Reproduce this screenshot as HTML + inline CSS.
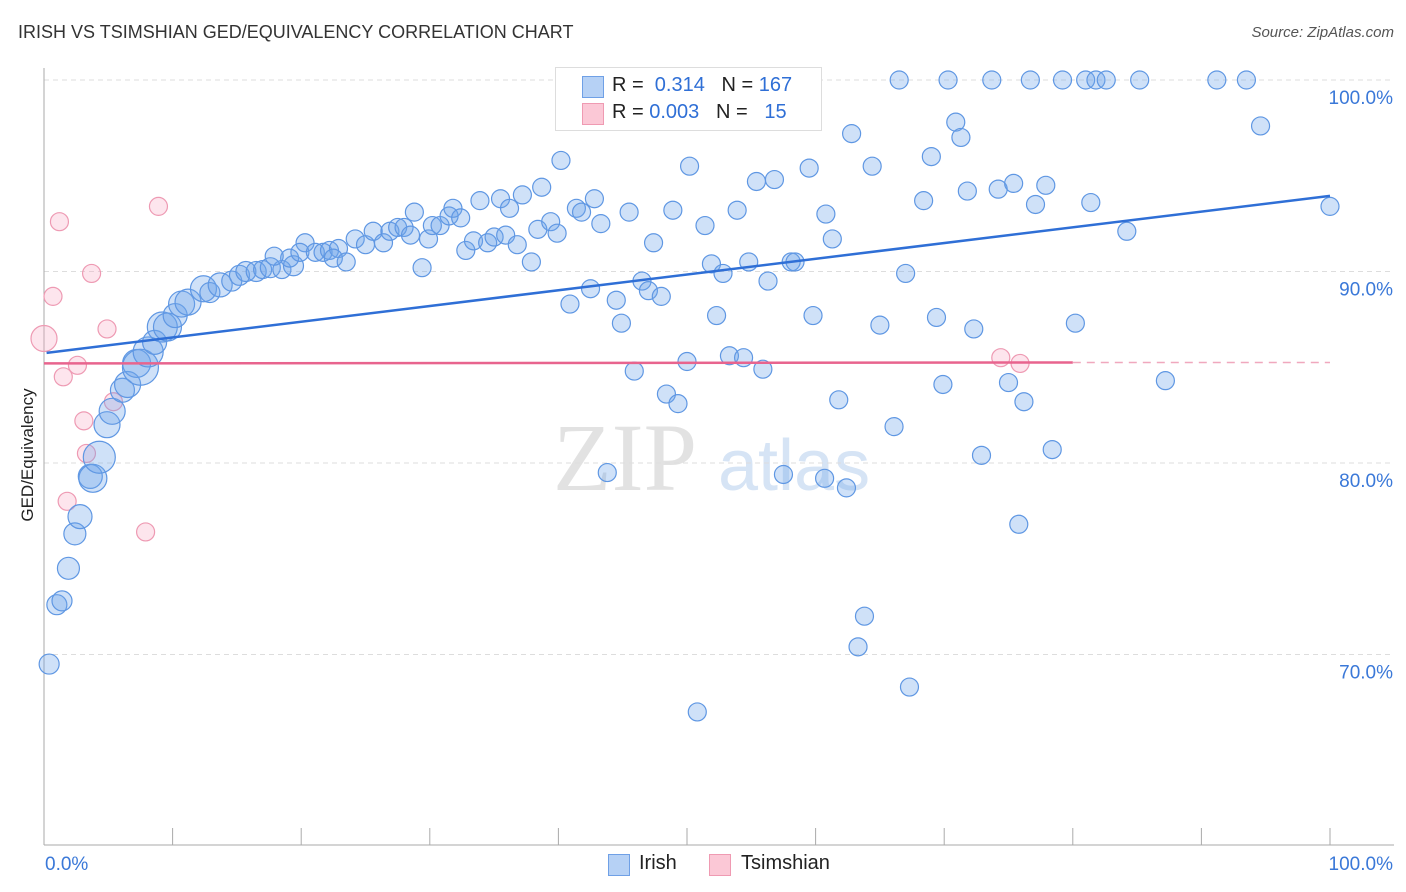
<!DOCTYPE html>
<html><head><meta charset="utf-8">
<style>
body{margin:0;background:#fff;font-family:"Liberation Sans",sans-serif;}
#wrap{position:relative;width:1406px;height:892px;overflow:hidden;}
.t{position:absolute;white-space:nowrap;}
</style></head>
<body>
<div id="wrap">
<div class="t" style="left:18px;top:22px;font-size:18px;color:#333;">IRISH VS TSIMSHIAN GED/EQUIVALENCY CORRELATION CHART</div>
<div class="t" style="right:12px;top:24px;font-size:15px;color:#555;font-style:italic;">Source: ZipAtlas.com</div>
<svg id="plot" width="1406" height="892" style="position:absolute;left:0;top:0">
<text x="553" y="490" font-family="Liberation Serif" font-size="96" fill="#e2e2e2">ZIP</text>
<text x="718" y="490" font-family="Liberation Sans" font-size="72" fill="#d6e4f5">atlas</text>
</svg>
<div class="t" style="left:-42px;top:445px;font-size:17px;color:#222;transform:rotate(-90deg);width:140px;text-align:center;">GED/Equivalency</div>
<div style="position:absolute;left:555px;top:67px;width:265px;height:62px;border:1px solid #ddd;background:#fff;">
<div style="position:absolute;left:26px;top:8px;width:20px;height:20px;background:#b6d1f5;border:1px solid #6fa0e6;"></div>
<div class="t" style="left:56px;top:6px;font-size:20px;color:#222;">R = <span style="color:#2f6fd6">&nbsp;0.314</span>&nbsp;&nbsp;&nbsp;N = <span style="color:#2f6fd6">167</span></div>
<div style="position:absolute;left:26px;top:35px;width:20px;height:20px;background:#fbc8d6;border:1px solid #ef9ab2;"></div>
<div class="t" style="left:56px;top:33px;font-size:20px;color:#222;">R = <span style="color:#2f6fd6">0.003</span>&nbsp;&nbsp;&nbsp;N = <span style="color:#2f6fd6">&nbsp;&nbsp;15</span></div>
</div>
<div style="position:absolute;left:608px;top:854px;width:20px;height:20px;background:#b6d1f5;border:1px solid #6fa0e6;"></div>
<div class="t" style="left:639px;top:852px;font-size:20px;color:#222;">Irish</div>
<div style="position:absolute;left:709px;top:854px;width:20px;height:20px;background:#fbc8d6;border:1px solid #ef9ab2;"></div>
<div class="t" style="left:741px;top:852px;font-size:20px;color:#222;">Tsimshian</div>
</div>
<script>
const yTicks=[100,90,80,70];
const yTickLabels=["100.0%","90.0%","80.0%","70.0%"];
const xTickLabels=["0.0%","100.0%"];
const irishX=[0.4,1.0,1.4,1.9,2.4,2.8,3.6,3.8,4.3,4.9,5.3,6.1,6.5,7.2,7.5,8.1,8.6,9.2,9.6,10.2,10.7,11.2,12.4,12.9,13.7,14.6,15.2,15.7,16.5,17.0,17.6,18.5,19.4,19.1,17.9,20.3,19.9,21.1,21.7,22.2,22.9,22.5,23.5,24.2,25.0,25.6,26.4,26.9,27.5,28.0,28.5,28.8,29.4,29.9,30.2,30.8,31.5,31.8,32.4,32.8,33.4,33.9,34.5,35.0,35.5,35.9,36.2,36.8,37.2,37.9,38.4,38.7,39.4,39.9,40.2,40.9,41.4,41.8,42.5,42.8,43.3,43.8,44.5,44.9,45.5,45.9,46.5,47.0,47.4,48.0,48.4,48.9,49.3,50.0,50.2,50.8,51.4,51.9,52.3,52.8,53.3,53.9,54.4,54.8,55.4,55.9,56.3,56.8,57.5,58.1,58.4,58.8,59.5,59.8,60.7,60.8,61.3,61.8,62.4,62.8,63.3,63.8,64.4,65.0,66.1,66.5,67.0,67.3,68.4,69.0,69.4,69.9,70.3,70.9,71.3,71.8,72.3,72.9,73.7,74.2,75.0,75.4,75.8,76.2,76.7,77.1,77.9,78.4,79.2,80.2,81.0,81.4,81.8,82.6,84.2,85.2,87.2,91.2,93.5,94.6,100.0];
const irishY=[69.5,72.6,72.8,74.5,76.3,77.2,79.3,79.2,80.3,82.0,82.7,83.8,84.1,85.2,85.0,85.8,86.3,87.1,87.1,87.7,88.3,88.4,89.1,88.9,89.3,89.5,89.8,90.0,90.0,90.1,90.2,90.1,90.3,90.7,90.8,91.5,91.0,91.0,91.0,91.1,91.2,90.7,90.5,91.7,91.4,92.1,91.5,92.1,92.3,92.3,91.9,93.1,90.2,91.7,92.4,92.4,92.9,93.3,92.8,91.1,91.6,93.7,91.5,91.8,93.8,91.9,93.3,91.4,94.0,90.5,92.2,94.4,92.6,92.0,95.8,88.3,93.3,93.1,89.1,93.8,92.5,79.5,88.5,87.3,93.1,84.8,89.5,89.0,91.5,88.7,83.6,93.2,83.1,85.3,95.5,67.0,92.4,90.4,87.7,89.9,85.6,93.2,85.5,90.5,94.7,84.9,89.5,94.8,79.4,90.5,90.5,100.0,95.4,87.7,79.2,93.0,91.7,83.3,78.7,97.2,70.4,72.0,95.5,87.2,81.9,100.0,89.9,68.3,93.7,96.0,87.6,84.1,100.0,97.8,97.0,94.2,87.0,80.4,100.0,94.3,84.2,94.6,76.8,83.2,100.0,93.5,94.5,80.7,100.0,87.3,100.0,93.6,100.0,100.0,92.1,100.0,84.3,100.0,100.0,97.6,93.4];
const irishR=[10,10,10,11,11,12,12,14,16,13,13,12,13,14,18,15,12,15,14,12,13,13,13,10,12,10,10,10,10,9,10,9,10,9,9,9,9,9,9,9,9,9,9,9,9,9,9,9,9,9,9,9,9,9,9,9,9,9,9,9,9,9,9,9,9,9,9,9,9,9,9,9,9,9,9,9,9,9,9,9,9,9,9,9,9,9,9,9,9,9,9,9,9,9,9,9,9,9,9,9,9,9,9,9,9,9,9,9,9,9,9,9,9,9,9,9,9,9,9,9,9,9,9,9,9,9,9,9,9,9,9,9,9,9,9,9,9,9,9,9,9,9,9,9,9,9,9,9,9,9,9,9,9,9,9,9,9,9,9,9,9];
const tsimX=[0,1.2,0.7,3.7,1.5,2.6,4.9,8.9,3.1,3.3,5.4,1.8,7.9,74.4,75.9];
const tsimY=[86.5,92.6,88.7,89.9,84.5,85.1,87.0,93.4,82.2,80.5,83.2,78.0,76.4,85.5,85.2];
const tsimR=[13,9,9,9,9,9,9,9,9,9,9,9,9,9,9];
const irishTrend=[[0.2,85.75],[100,93.95]];
const tsimTrend=[[0,85.2],[80,85.25],[100,85.25]];

const NS="http://www.w3.org/2000/svg";
const svg=document.getElementById('plot');
const X=v=>44+v*12.86;
const Y=v=>80+(100-v)*19.15;
function mk(tag,a){const e=document.createElementNS(NS,tag);for(const k in a)e.setAttribute(k,a[k]);svg.appendChild(e);return e;}
yTicks.forEach((t,i)=>{
  const g=mk('line',{x1:44,x2:1394,y1:Y(t),y2:Y(t),stroke:'#ddd','stroke-dasharray':'5,4'});
  
  
  const l=mk('text',{x:1393,y:Y(t)+24,'text-anchor':'end','font-size':19,fill:'#3a78d8','font-family':'Liberation Sans'});
  l.textContent=yTickLabels[i];
  
  
});
const ya=mk('line',{x1:44,x2:44,y1:68,y2:845,stroke:'#aaa'});


const xa=mk('line',{x1:44,x2:1394,y1:845,y2:845,stroke:'#aaa'});


for(let i=0;i<=10;i++){
  const t=mk('line',{x1:X(i*10),x2:X(i*10),y1:828,y2:845,stroke:'#aaa'});
  
  
}
[[0,'start',45],[100,'end',1393]].forEach((d,i)=>{
  const l=mk('text',{x:d[2],y:870,'text-anchor':d[1],'font-size':19,fill:'#3a78d8','font-family':'Liberation Sans'});
  l.textContent=xTickLabels[i];
  
  
});
tsimX.forEach((v,i)=>{
  const c=mk('circle',{cx:X(v),cy:Y(tsimY[i]),r:tsimR[i],fill:'rgba(247,170,195,0.3)',stroke:'#ee9ab3','stroke-width':1.2});
  
  
});
irishX.forEach((v,i)=>{
  const c=mk('circle',{cx:X(v),cy:Y(irishY[i]),r:irishR[i],fill:'rgba(110,165,235,0.33)',stroke:'#5f97e3','stroke-width':1.2});
  
  
});
const bt=mk('line',{x1:X(irishTrend[0][0]),y1:Y(irishTrend[0][1]),x2:X(irishTrend[1][0]),y2:Y(irishTrend[1][1]),stroke:'#2f6fd6','stroke-width':2.5});


const pt=mk('line',{x1:X(tsimTrend[0][0]),y1:Y(tsimTrend[0][1]),x2:X(tsimTrend[1][0]),y2:Y(tsimTrend[1][1]),stroke:'#e8648e','stroke-width':2.5});


const pd=mk('line',{x1:X(tsimTrend[1][0]),y1:Y(tsimTrend[1][1]),x2:X(tsimTrend[2][0]),y2:Y(tsimTrend[2][1]),stroke:'#f0a8be','stroke-width':1.5,'stroke-dasharray':'8,6'});


</script>
</body></html>
